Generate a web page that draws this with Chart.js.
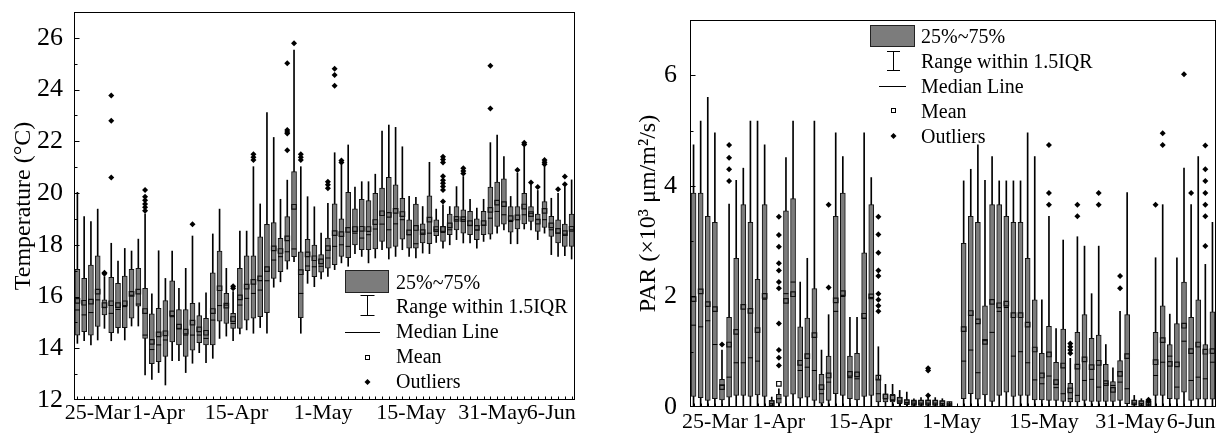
<!DOCTYPE html>
<html><head><meta charset="utf-8">
<script src="https://cdn.jsdelivr.net/npm/chart.js@4.4.1/dist/chart.umd.min.js"></script>
<style>
html,body{margin:0;padding:0;background:#fff;width:1223px;height:437px;overflow:hidden}
#l{position:absolute;left:0;top:0;width:611px;height:437px}
#r{position:absolute;left:611px;top:0;width:612px;height:437px}
</style></head><body>
<div id="l"><canvas id="c1"></canvas></div>
<div id="r"><canvas id="c2"></canvas></div>
<script>
// ---- tick labels ----
const dateTickPos = [3, 12, 23.5, 36.3, 49.3, 61.4, 70];
const dateTickText = ['25-Mar','1-Apr','15-Apr','1-May','15-May','31-May','6-Jun'];
const tempTicks = [12,14,16,18,20,22,24,26];
const parTicks = [0,2,4,6];
const legendLabels = ['25%~75%','Range within 1.5IQR','Median Line','Mean','Outliers'];

// ---- Temperature (°C) daily box statistics ----
const tempMin = [14.19,14.29,14.13,14.32,14.77,14.29,14.58,14.32,14.86,14.86,
12.97,12.80,13.06,12.58,13.52,13.52,13.06,13.42,13.83,13.44,
13.61,14.38,14.47,14.29,14.55,14.71,14.58,14.80,14.58,16.36,
16.57,17.06,17.35,14.58,16.51,16.38,16.68,16.78,17.04,17.30,
17.17,17.66,17.55,17.30,17.49,17.81,17.45,17.55,17.81,17.55,
17.49,17.68,17.66,18.09,17.87,18.00,18.20,18.07,18.07,17.87,
18.13,18.22,18.45,18.58,18.04,18.04,18.61,18.58,18.20,18.45,
17.62,17.55,17.58,17.45];
const tempQ1 = [14.51,14.64,14.51,14.84,15.29,14.60,14.80,14.80,15.16,15.63,
14.38,13.40,13.48,13.68,14.25,14.13,13.68,13.93,14.22,14.13,
14.13,15.05,14.96,14.77,14.77,15.09,15.16,15.22,15.38,16.70,
16.96,17.37,17.54,15.18,17.00,16.77,16.94,17.10,17.23,17.55,
17.50,18.00,17.81,17.81,17.84,18.13,17.87,17.94,18.22,17.87,
17.87,18.07,18.04,18.35,18.13,18.39,18.58,18.45,18.39,18.20,
18.39,18.41,18.71,18.80,18.49,18.61,18.81,18.90,18.52,18.67,
18.32,18.07,17.94,17.94];
const tempMedian = [15.48,15.29,15.38,15.87,15.57,15.35,15.50,15.61,16.05,15.71,
14.51,13.95,14.13,14.32,15.22,14.77,14.51,14.51,14.51,14.38,
15.09,15.65,15.67,14.96,15.67,15.93,16.12,16.25,16.61,17.41,
17.54,17.73,17.84,16.12,17.18,17.15,17.17,17.49,17.94,18.00,
17.94,18.45,18.26,18.39,18.61,18.80,18.58,18.81,18.97,18.39,
18.04,18.45,18.45,18.58,18.48,18.58,18.97,18.97,18.74,18.58,
18.76,19.03,19.29,19.16,18.90,18.97,19.16,19.22,18.97,18.97,
18.58,18.45,18.41,18.58];
const tempMean = [15.83,15.76,15.80,16.19,15.67,15.74,15.67,15.74,16.10,16.19,
15.44,14.25,14.54,14.58,15.35,14.84,14.64,14.99,14.73,14.60,
15.44,16.32,15.65,15.13,15.97,16.38,16.57,16.70,17.06,17.86,
17.76,18.25,19.47,16.94,17.63,17.48,17.36,17.87,18.45,18.41,
18.58,18.61,18.62,18.61,18.88,19.22,19.16,19.31,19.19,18.48,
18.65,18.49,18.97,18.61,18.61,18.75,19.00,18.99,18.84,18.65,
18.84,19.35,19.63,19.57,19.03,19.06,19.48,19.19,18.90,19.31,
18.75,18.54,18.45,18.62];
const tempQ3 = [17.05,16.70,17.22,17.57,15.87,16.74,16.51,16.79,17.05,17.09,
16.32,15.33,15.54,15.84,16.61,15.50,15.50,15.74,15.26,15.16,
16.92,17.76,16.12,15.35,17.09,17.57,17.57,18.31,18.79,18.86,
18.25,19.09,20.83,17.73,18.21,17.99,17.62,18.26,19.58,19.00,
20.03,19.39,19.76,19.71,19.99,20.19,20.61,20.32,19.80,18.97,
19.57,18.81,19.89,18.97,18.71,19.19,19.48,19.35,19.29,19.00,
19.29,20.23,20.42,20.55,19.48,19.48,19.99,19.48,19.19,19.67,
19.10,18.97,18.80,19.19];
const tempMax = [20.03,19.09,18.90,19.38,16.77,18.06,17.37,17.86,17.76,18.22,
19.20,16.10,17.77,16.70,17.76,16.32,17.09,18.34,15.76,16.14,
18.42,19.38,17.09,16.19,18.53,18.53,21.02,19.58,23.11,22.15,
19.76,20.50,25.53,21.02,19.86,19.47,18.45,19.60,21.56,21.09,
21.86,20.23,20.44,20.44,20.73,22.40,22.63,22.54,21.79,19.87,
19.84,19.48,21.19,19.38,19.55,19.48,20.25,20.64,19.76,19.42,
19.76,21.95,22.24,21.41,19.87,20.77,21.79,20.32,20.10,21.09,
19.80,19.99,20.25,20.51];
const tempOutlierDay = [4,4, 5,5,5, 10,10,10,10,10,10, 17, 23,23, 26,26,26,
31,31,31,31,31, 32, 33,33,33, 37,37,37, 38,38,38, 39,39,
54,54,54,54,54,54,54,54,54, 57,57,57, 61,61, 65, 66,66, 67, 68, 69,69,69, 71, 72,72];
const tempOutlierVal = [16.92,16.88, 23.77,22.80,20.60, 20.12,19.86,19.72,19.58,19.45,19.32, 18.79, 16.40,16.32, 21.50,21.38,21.28,
25.02,22.44,22.36,22.30,21.66, 25.79, 21.50,21.38,21.28, 20.44,20.32,20.19, 24.81,24.56,24.15, 21.26,21.18,
21.40,21.30,21.18,20.65,20.50,20.38,20.25,20.12,19.67, 20.96,20.85,20.76, 24.92,23.27, 20.89, 21.95,21.88, 20.41, 20.23, 21.28,21.19,21.11, 20.15, 20.64,20.34];

// ---- PAR (x10^3 umol/m2/s) daily box statistics ----
const parMin = [0.02,0.02,0.02,0.02,0.02,0.02,0.02,0.02,0.02,0.02,
0.02,0.00,0.00,0.02,0.02,0.02,0.02,0.02,0.02,0.02,
0.02,0.02,0.02,0.02,0.02,0.02,0.02,0.01,0.01,0.01,
0.01,0.01,0.01,0.01,0.01,0.01,0.00,null,0.02,0.02,
0.02,0.02,0.02,0.02,0.02,0.02,0.02,0.02,0.02,0.02,
0.02,0.02,0.02,0.02,0.02,0.02,0.02,0.02,0.02,0.02,
0.02,0.02,0.01,0.01,0.01,0.02,0.02,0.02,0.02,0.02,
0.02,0.02,0.02,0.02];
const parQ1 = [0.19,0.17,0.12,0.15,0.13,0.18,0.21,0.21,0.19,0.22,
0.19,0.02,0.07,0.19,0.23,0.16,0.18,0.12,0.07,0.12,
0.24,0.21,0.15,0.13,0.19,0.21,0.09,0.09,0.09,0.06,
0.05,0.03,0.03,0.03,0.03,0.03,0.02,null,0.15,0.24,
0.14,0.22,0.10,0.21,0.27,0.19,0.21,0.21,0.13,0.13,
0.12,0.12,0.10,0.09,0.09,0.12,0.10,0.10,0.10,0.10,
0.12,0.06,0.04,0.03,0.03,0.21,0.21,0.15,0.14,0.27,
0.12,0.14,0.14,0.14];
const parMedian = [1.48,1.45,1.56,1.13,0.39,0.54,0.80,0.80,0.89,0.83,
1.95,0.06,0.15,2.05,2.26,0.66,0.72,0.66,0.24,0.45,
1.73,2.00,0.53,0.51,1.60,1.98,0.24,0.15,0.12,0.11,
0.08,0.07,0.07,0.07,0.07,0.06,0.04,null,0.83,1.03,
0.62,1.20,1.35,1.73,1.80,0.92,1.00,0.80,0.49,0.42,
0.56,0.35,0.24,0.15,0.21,0.48,0.50,0.36,0.42,0.39,
0.45,0.33,0.07,0.06,0.05,0.57,0.81,0.92,0.36,1.19,
0.48,0.54,0.51,0.81];
const parMean = [1.95,2.09,1.86,1.77,0.36,1.13,1.36,1.81,1.74,1.39,
2.01,0.07,0.42,1.92,2.04,0.80,0.92,1.30,0.36,0.57,
1.93,2.06,0.60,0.59,1.65,2.00,0.53,0.19,0.17,0.13,
0.09,0.08,0.08,0.08,0.08,0.07,0.05,null,1.41,1.70,
1.55,1.18,1.90,1.84,1.87,1.66,1.66,1.49,1.04,0.57,
0.95,0.45,0.75,0.30,0.73,0.86,0.72,0.80,0.43,0.31,
0.60,0.92,0.08,0.07,0.06,0.81,1.21,0.78,0.77,1.47,
1.01,1.13,1.00,1.01];
const parQ3 = [3.87,3.87,3.45,3.34,0.50,1.62,2.69,3.66,3.34,2.31,
3.66,0.12,0.23,3.55,3.77,1.45,1.61,2.14,0.59,0.92,
3.45,3.87,0.92,0.97,2.79,3.66,0.51,0.24,0.23,0.18,
0.13,0.11,0.12,0.13,0.12,0.11,0.07,null,2.96,3.45,
3.34,1.83,3.66,3.66,3.45,3.34,3.34,2.69,1.94,0.97,
1.46,0.81,1.41,0.43,1.35,1.67,1.24,1.30,0.77,0.46,
0.84,1.67,0.12,0.11,0.09,1.35,1.83,1.13,1.51,2.26,
1.62,1.94,1.13,1.72];
const parMax = [4.74,5.17,5.60,4.96,1.03,3.67,4.10,4.32,5.17,5.17,
4.74,0.18,0.33,4.51,5.17,2.26,2.69,5.17,1.03,1.67,
4.96,4.53,1.62,1.62,4.96,4.15,1.09,0.41,0.41,0.30,
0.27,0.15,0.17,0.18,0.17,0.15,0.09,null,4.09,4.30,
4.74,4.10,4.53,4.09,4.09,4.09,4.09,4.96,4.53,1.94,
3.45,1.42,3.02,0.88,3.08,2.91,2.05,2.91,1.13,0.71,
1.73,3.88,0.21,0.15,0.10,2.70,3.66,1.68,2.70,4.32,
3.66,4.53,2.58,3.34];
const parOutlierDay = [4, 5,5,5,5, 12,12,12,12,12,12,12,12,12,12,12, 19,19,
26,26,26,26,26,26,26,26,26, 33,33,33, 50,50,50, 53,53,53,53, 54,54, 57,57, 60,60,
64,64, 65, 66,66, 69, 70, 72,72,72,72,72,72,72];
const parOutlierVal = [1.13, 4.74,4.51,4.30,4.09, 3.44,3.11,2.90,2.60,2.47,2.26,2.15,1.51,1.03,0.89,0.75, 3.66,2.16,
3.44,3.12,2.79,2.47,2.37,2.05,1.94,1.83,1.73, 0.70,0.66,0.21, 4.74,3.87,3.66, 1.15,1.09,1.03,0.97, 3.66,3.45, 3.87,3.66, 2.37,2.15,
0.13,0.11, 3.66, 4.95,4.74, 6.02, 3.87, 4.73,4.30,4.09,3.87,3.66,3.45,2.91];

// ---- drawing ----
const F = "'Liberation Serif','Times New Roman',serif";
const BOX = '#7c7c7c';
const NBOX = tempMin.length;

function makeDecor(o) {
  return {
    id: 'decor',
    afterDraw(chart) {
      const {ctx, chartArea: a, scales: {x, y}} = chart;
      ctx.save();
      ctx.strokeStyle = '#000';
      ctx.lineWidth = 1;
      const L = Math.round(a.left) + 0.5, T = Math.round(a.top) + 0.5;
      const R = Math.round(a.right) - 0.5, B = Math.round(a.bottom) - 0.5;
      ctx.strokeRect(L, T, R - L, B - T);
      ctx.beginPath();
      for (let v = o.yMin + 1; v < o.yMax; v += 1) {
        const py = Math.round(y.getPixelForValue(v)) + 0.5;
        const len = o.yTicks.includes(v) ? 5 : 3;
        ctx.moveTo(L, py); ctx.lineTo(L + len, py);
      }
      for (let i = 0; i < NBOX; i++) {
        const px = Math.round(x.getPixelForValue(i)) + 0.5;
        ctx.moveTo(px, B); ctx.lineTo(px, B - 3);
      }
      ctx.stroke();
      // legend
      const g = o.legend;
      ctx.fillStyle = BOX;
      ctx.fillRect(g.box[0], g.box[1], g.box[2] - g.box[0], g.box[3] - g.box[1]);
      ctx.strokeStyle = '#222';
      ctx.strokeRect(g.box[0] + 0.5, g.box[1] + 0.5, g.box[2] - g.box[0] - 1, g.box[3] - g.box[1] - 1);
      ctx.strokeStyle = '#000';
      ctx.beginPath();
      const wx = Math.round(g.wx) + 0.5;
      ctx.moveTo(wx, g.wy0); ctx.lineTo(wx, g.wy1);
      ctx.moveTo(wx - g.cap, g.wy0 + 0.5); ctx.lineTo(wx + g.cap, g.wy0 + 0.5);
      ctx.moveTo(wx - g.cap, g.wy1 - 0.5); ctx.lineTo(wx + g.cap, g.wy1 - 0.5);
      ctx.moveTo(g.mx0, g.my + 0.5); ctx.lineTo(g.mx1, g.my + 0.5);
      ctx.stroke();
      ctx.strokeRect(Math.round(g.wx) - 1.5, g.ay - 1.5, 4, 4);
      ctx.fillStyle = '#000';
      ctx.beginPath();
      const dx = Math.round(g.wx) + 0.5;
      ctx.moveTo(dx - 3, g.oy); ctx.lineTo(dx, g.oy - 3); ctx.lineTo(dx + 3, g.oy); ctx.lineTo(dx, g.oy + 3);
      ctx.closePath(); ctx.fill();
      ctx.font = '20px ' + F;
      ctx.textAlign = 'left';
      ctx.textBaseline = 'alphabetic';
      legendLabels.forEach((t, k) => ctx.fillText(t, g.tx, g.base[k]));
      ctx.restore();
    }
  };
}

function makeChart(id, d, o) {
  const idx = d.min.map((v, i) => i).filter(i => d.min[i] !== null);
  const datasets = [
    {type: 'line', label: 'Outliers', data: d.outDay.map((x, k) => ({x, y: d.outVal[k]})),
     showLine: false, pointStyle: 'rectRot', pointRadius: 3, pointBackgroundColor: '#000',
     pointBorderColor: '#000', pointBorderWidth: 0, order: 0},
    {type: 'line', label: 'Mean', data: idx.map(i => ({x: i, y: d.mean[i]})),
     showLine: false, pointStyle: 'rect', pointRadius: 3.2, pointBackgroundColor: 'rgba(0,0,0,0)',
     pointBorderColor: '#111', pointBorderWidth: 1.2, order: 1},
    {type: 'line', label: 'Median Line', data: idx.map(i => ({x: i, y: d.med[i]})),
     showLine: false, pointStyle: 'line', pointRadius: 2.5, pointBorderColor: '#000',
     pointBorderWidth: 1, order: 2},
    {type: 'bar', label: '25%~75%', data: idx.map(i => ({x: i, y: [d.q1[i], d.q3[i]]})),
     backgroundColor: BOX, borderColor: '#111', borderWidth: 1, borderSkipped: false,
     barThickness: 5, grouped: false, order: 3},
    {type: 'bar', label: 'Range within 1.5IQR', data: idx.map(i => ({x: i, y: [d.min[i], d.max[i]]})),
     backgroundColor: '#000', borderWidth: 0, barThickness: 1, grouped: false, order: 4}
  ];
  new Chart(document.getElementById(id), {
    type: 'bar',
    data: {datasets},
    options: {
      responsive: true, maintainAspectRatio: false, animation: false, events: [],
      layout: {padding: o.pad, autoPadding: false},
      plugins: {legend: {display: false}, tooltip: {enabled: false}},
      scales: {
        x: {
          type: 'linear', min: -0.5, max: NBOX - 0.5, offset: false,
          afterBuildTicks: s => { s.ticks = dateTickPos.map(v => ({value: v})); },
          afterFit: s => { s.height = o.xH; s.paddingLeft = 0; s.paddingRight = 0; },
          grid: {display: false, drawTicks: false}, border: {display: false},
          ticks: {autoSkip: false, maxRotation: 0, minRotation: 0, padding: o.xPad, color: '#000',
                  font: {family: F, size: 22}, callback: (v, i) => dateTickText[i]}
        },
        y: {
          type: 'linear', min: o.yMin, max: o.yMax,
          afterBuildTicks: s => { s.ticks = o.yTicks.map(v => ({value: v})); },
          afterFit: s => { s.width = o.yW; s.paddingTop = 0; s.paddingBottom = 0; },
          grid: {display: false, drawTicks: false}, border: {display: false},
          ticks: {padding: o.yPad, color: '#000', font: {family: F, size: 26}},
          title: {display: true, text: o.title, color: '#000', font: {family: F, size: 24},
                  padding: {top: o.titlePad, bottom: 0}}
        }
      }
    },
    plugins: [makeDecor(o)]
  });
}

makeChart('c1',
  {min: tempMin, q1: tempQ1, med: tempMedian, mean: tempMean, q3: tempQ3, max: tempMax,
   outDay: tempOutlierDay, outVal: tempOutlierVal},
  {pad: {left: 0, top: 12, right: 36, bottom: 0}, xH: 37, yW: 74, xPad: 0, yPad: 11,
   yMin: 12, yMax: 27, yTicks: tempTicks, title: 'Temperature (°C)', titlePad: 9,
   legend: {box: [345, 270, 389, 293], tx: 396, base: [289, 313, 338, 363, 388],
            wx: 367, wy0: 295, wy1: 316, cap: 7, mx0: 345, mx1: 380, my: 332, ay: 357, oy: 382}});

makeChart('c2',
  {min: parMin, q1: parQ1, med: parMedian, mean: parMean, q3: parQ3, max: parMax,
   outDay: parOutlierDay, outVal: parOutlierVal},
  {pad: {left: 0, top: 20, right: 7, bottom: 0}, xH: 30, yW: 79, xPad: 2, yPad: 13,
   yMin: 0, yMax: 7, yTicks: parTicks, title: 'PAR (×10³ μm/m²/s)', titlePad: 23,
   legend: {box: [259, 25, 304, 47], tx: 310, base: [43, 68, 93, 118, 143],
            wx: 282, wy0: 51, wy1: 71, cap: 6.5, mx0: 268, mx1: 295, my: 86, ay: 110, oy: 136}});
</script>
</body></html>
